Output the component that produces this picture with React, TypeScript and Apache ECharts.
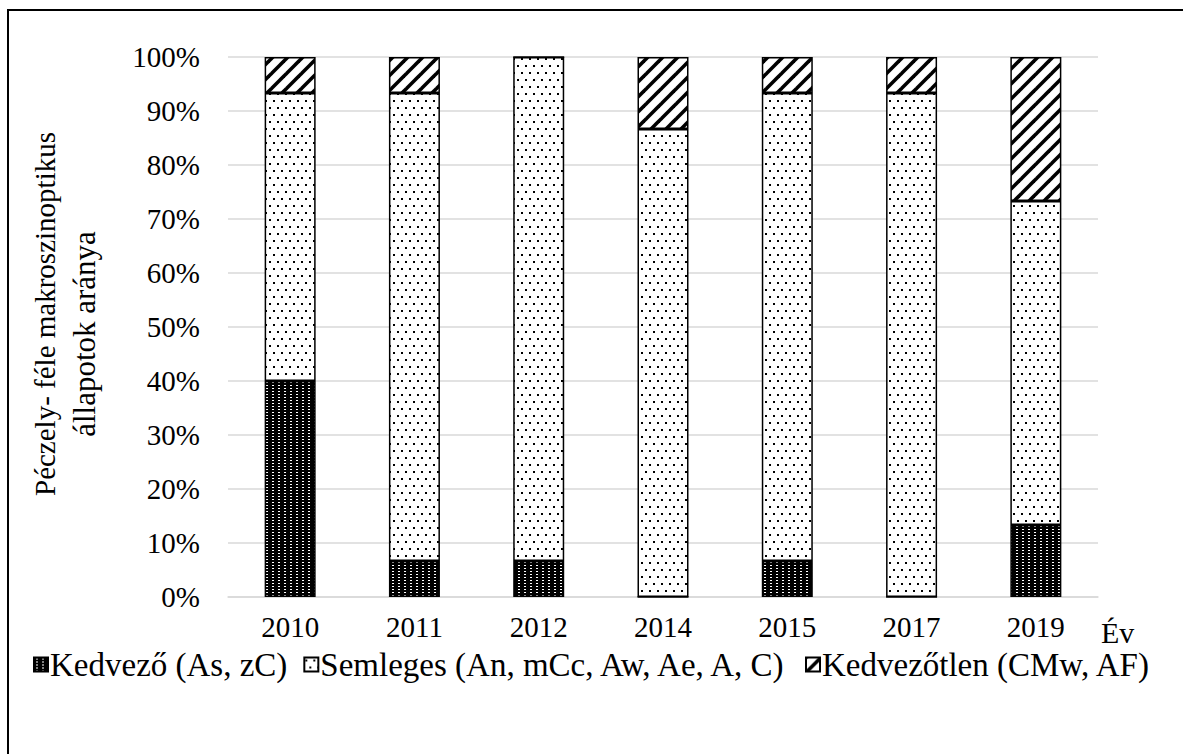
import React, { useEffect, useRef } from "react";
import * as echarts from "echarts";

const categories = ["2010", "2011", "2012", "2014", "2015", "2017", "2019"];
const kedvezo = [40, 6.67, 6.67, 0, 6.67, 0, 13.33];
const semleges = [53.33, 86.67, 93.33, 86.67, 86.67, 93.33, 60];
const kedvezotlen = [6.67, 6.67, 0, 13.33, 6.67, 6.67, 26.67];
const seriesNames = [
  "Kedvező (As, zC)",
  "Semleges (An, mCc, Aw, Ae, A, C)",
  "Kedvezőtlen (CMw, AF)",
];
const yTitleLines = ["Péczely- féle makroszinoptikus", "állapotok aránya"];
const xTitle = "Év";
const yTicks = { min: 0, max: 100, interval: 10 };

const FONT = "Liberation Serif";

function makeTile(kind: string): string {
  const c = document.createElement("canvas");
  if (kind === "dark") {
    c.width = 6;
    c.height = 3;
    const g = c.getContext("2d")!;
    g.fillStyle = "#000";
    g.fillRect(0, 0, 6, 3);
    g.fillStyle = "#fff";
    g.fillRect(2, 1, 2, 1);
  } else if (kind === "dots") {
    c.width = 8;
    c.height = 14;
    const g = c.getContext("2d")!;
    g.fillStyle = "#fff";
    g.fillRect(0, 0, 8, 14);
    g.fillStyle = "#000";
    g.fillRect(1, 2, 2, 2);
    g.fillRect(5, 9, 2, 2);
  } else {
    const s = 15;
    c.width = s;
    c.height = s;
    const g = c.getContext("2d")!;
    g.fillStyle = "#fff";
    g.fillRect(0, 0, s, s);
    g.strokeStyle = "#000";
    g.lineWidth = 3.6;
    for (const o of [-s, 0, s]) {
      g.beginPath();
      g.moveTo(o - 2, s + 2);
      g.lineTo(o + s + 2, -2);
      g.stroke();
    }
  }
  return c.toDataURL();
}

export default function App() {
  const ref = useRef<HTMLDivElement>(null);
  useEffect(() => {
    if (!ref.current) return;
    const chart = echarts.init(ref.current, undefined, { renderer: "svg" });
    const pats = ["dark", "dots", "stripes"].map((k) => ({
      image: makeTile(k),
      repeat: "repeat",
    }));
    const dataSets = [kedvezo, semleges, kedvezotlen];
    chart.setOption({
      animation: false,
      backgroundColor: "#fff",
      textStyle: { fontFamily: FONT, color: "#000" },
      grid: { left: 228, right: 85, top: 57, bottom: 157, containLabel: false },
      legend: {
        left: 33,
        top: 648,
        padding: 0,
        itemGap: 16,
        itemWidth: 14,
        itemHeight: 14,
        icon: "rect",
        textStyle: { fontFamily: FONT, fontSize: 33, color: "#000", padding: [0, 0, 0, -3] },
        data: seriesNames,
      },
      xAxis: {
        type: "category",
        data: categories,
        axisTick: { show: false },
        axisLine: { lineStyle: { color: "#d9d9d9", width: 1.5 } },
        axisLabel: { fontFamily: FONT, fontSize: 29, color: "#000", margin: 15 },
      },
      yAxis: {
        type: "value",
        min: yTicks.min,
        max: yTicks.max,
        interval: yTicks.interval,
        axisLine: { show: false },
        axisTick: { show: false },
        splitLine: { lineStyle: { color: "#d9d9d9", width: 1.5 } },
        axisLabel: {
          fontFamily: FONT,
          fontSize: 29,
          color: "#000",
          margin: 28,
          formatter: "{value}%",
        },
      },
      series: seriesNames.map((name, i) => ({
        name,
        type: "bar",
        stack: "total",
        barWidth: 51,
        data: dataSets[i],
        itemStyle: { color: pats[i], borderColor: "#000", borderWidth: 1.5 },
        emphasis: { disabled: true },
      })),
      graphic: [
        {
          type: "rect",
          shape: { x: 8, y: 10, width: 1300, height: 900 },
          style: { fill: "none", stroke: "#000", lineWidth: 2 },
          silent: true,
        },
        {
          type: "text",
          x: 45,
          y: 314,
          rotation: Math.PI / 2,
          style: {
            text: yTitleLines[0],
            fontFamily: FONT,
            fontSize: 29,
            fill: "#000",
            align: "center",
            verticalAlign: "middle",
          },
        },
        {
          type: "text",
          x: 84,
          y: 334,
          rotation: Math.PI / 2,
          style: {
            text: yTitleLines[1],
            fontFamily: FONT,
            fontSize: 31,
            fill: "#000",
            align: "center",
            verticalAlign: "middle",
          },
        },
        {
          type: "text",
          x: 1101,
          y: 647,
          style: {
            text: xTitle,
            fontFamily: FONT,
            fontSize: 30,
            fill: "#000",
            align: "left",
            verticalAlign: "bottom",
          },
        },
      ],
    });
    return () => chart.dispose();
  }, []);
  return (
    <div
      ref={ref}
      style={{ position: "absolute", left: 0, top: 0, width: 1183, height: 754 }}
    />
  );
}
